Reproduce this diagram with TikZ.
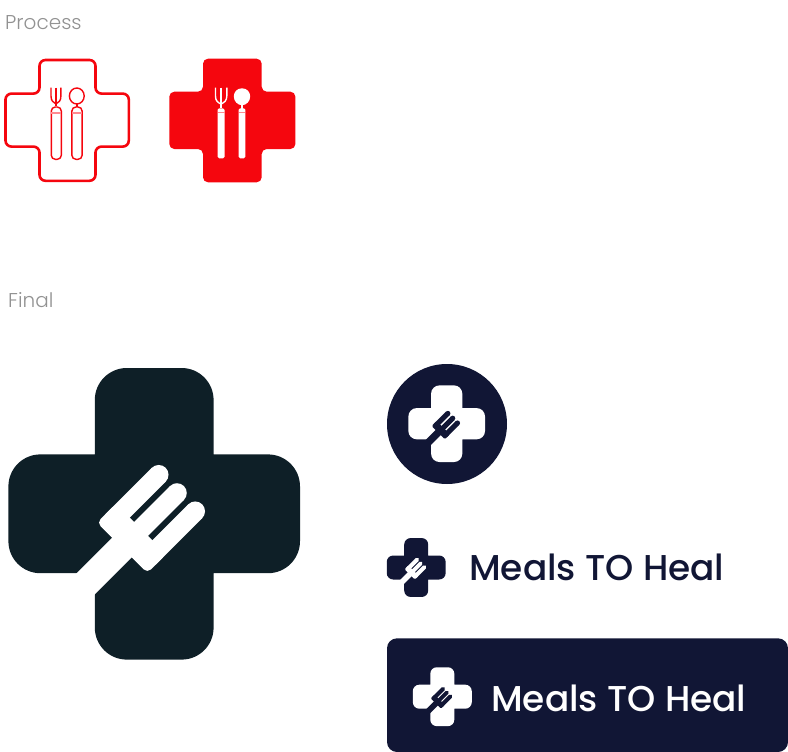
\documentclass[tikz,border=0pt]{standalone}
\usepackage{fontspec}
\setmainfont{Poppins}
\newfontfamily\logofont{Poppins Medium}
\newfontfamily\labelfont{Poppins Light}
\definecolor{navy}{HTML}{111635}
\definecolor{teal}{HTML}{0E1F27}
\definecolor{redc}{HTML}{F5060E}
\definecolor{pinkc}{HTML}{FF8A90}
\definecolor{graytxt}{HTML}{929292}
% emblem: cx cy scale crosscolor forkcolor
\newcommand{\emblem}[5]{%
  \pgfmathsetmacro{\ss}{#3}%
  \pgfmathsetmacro{\aa}{#3*0.7071}%
  \pgfmathsetmacro{\rr}{#3*32}%
  \pgfmathsetmacro{\hr}{#3*5}%
  \begin{scope}[shift={(#1,#2)},x=\ss pt,y=-\ss pt]
    \fill[#4,rounded corners=\rr pt] (-145.8,-59.4) rectangle (145.8,59.4) (-59.4,-145.8) rectangle (59.4,145.8);
    \begin{scope}[x={(\aa pt,\aa pt)},y={(\aa pt,-\aa pt)}]
      \fill[#5] (-115,-12.9) -- (-40,-12.9) -- (-40,14.9) -- (-115,14.9) -- cycle;
      \fill[#5] (-35,-34.2) -- (30.8,-34.2) -- (30.8,-14.6) -- (-35,-14.6) -- cycle;
      \fill[#5] (-35,-8.4) -- (30.8,-8.4) -- (30.8,11.2) -- (-35,11.2) -- cycle;
      \fill[#5] (-35,17.4) -- (30.8,17.4) -- (30.8,37) -- (-35,37) -- cycle;
      \fill[#5] (30.8,-24.4) circle[radius=9.8] (30.8,1.4) circle[radius=9.8] (30.8,27.2) circle[radius=9.8];
      \fill[#5,rounded corners=\hr pt] (-46.7,-34.2) -- (-20,-34.2) -- (-20,37) -- (-46.7,37) -- cycle;
    \end{scope}
  \end{scope}}
\tikzset{
  glabel/.style={text=graytxt,font=\labelfont\fontsize{20pt}{20pt}\selectfont,inner sep=0pt,anchor=base west},
  logotext/.style={font=\logofont\fontsize{35.9pt}{35.9pt}\selectfont,inner sep=0pt,anchor=base west},
  outl/.style={draw=redc,line width=1.4pt},
  pinkline/.style={draw=pinkc,line width=1.2pt}
}
\begin{document}
\begin{tikzpicture}[x=1pt,y=-1pt]
\useasboundingbox (0,0) rectangle (788,752);
\node[glabel] (lp) at (5,30) {Process};
\node[glabel] (lf) at (8,307) {Final};
% outline cross
\draw[redc,line width=2.6pt,rounded corners=6pt]
  (39.5,60) -- (95.5,60) -- (95.5,93.6) -- (128.8,93.6) -- (128.8,146.6) -- (95.5,146.6) -- (95.5,180.8) -- (39.5,180.8) -- (39.5,146.6) -- (5.5,146.6) -- (5.5,93.6) -- (39.5,93.6) -- cycle;
% outline fork
\draw[outl] (51,87.7) -- (51,96) .. controls (51,100.5) and (53,102.5) .. (56,104) .. controls (59,102.5) and (60.9,100.5) .. (60.9,96) -- (60.9,87.7);
\draw[outl] (56,87.7) -- (56,106.5);
\draw[outl,rounded corners=4pt] (51.3,107) rectangle (61.3,159.3);
\draw[pinkline] (51.3,113) -- (61.3,113);
% outline spoon
\draw[outl] (76.8,96) ellipse[x radius=7.4,y radius=8];
\draw[outl] (76.8,104) -- (76.8,107);
\draw[outl,rounded corners=4pt] (71.9,107) rectangle (82.1,159.3);
\draw[pinkline] (71.9,113) -- (82.1,113);
% filled cross
\fill[redc,rounded corners=5pt]
  (203,58.7) -- (261.7,58.7) -- (261.7,91.7) -- (295.4,91.7) -- (295.4,149) -- (261.7,149) -- (261.7,182.3) -- (203,182.3) -- (203,149) -- (169.3,149) -- (169.3,91.7) -- (203,91.7) -- cycle;
% filled fork
\draw[white,line width=1.4pt] (215.5,87.7) -- (215.5,96) .. controls (215.5,100.5) and (217.5,102.5) .. (221,104) .. controls (224.5,102.5) and (226.8,100.5) .. (226.8,96) -- (226.8,87.7);
\draw[white,line width=1.4pt] (221,87.7) -- (221,108.5);
\fill[white,rounded corners=1.5pt] (217.6,108.3) rectangle (224.5,158.3);
\fill[pinkc] (217.6,112.2) rectangle (224.5,113.4);
% filled spoon
\fill[white] (242,88.3) .. controls (247,88.3) and (250.2,92) .. (250.2,96.5) .. controls (250.2,101.5) and (246,105.2) .. (242,105.2) .. controls (238,105.2) and (233.8,101.5) .. (233.8,96.5) .. controls (233.8,92) and (237,88.3) .. (242,88.3) -- cycle;
\draw[white,line width=1.4pt] (242,105) -- (242,109);
\fill[white,rounded corners=1.5pt] (238.6,108.3) rectangle (245.3,158.3);
\fill[pinkc] (238.6,112.2) rectangle (245.3,113.4);
% final
\emblem{154.2}{513.8}{1}{teal}{white}
\fill[navy] (447,424) circle[radius=60];
\emblem{446.7}{423.7}{0.263}{white}{navy}
\emblem{416.2}{567.5}{0.202}{navy}{white}
\node[logotext,text=navy] (t1) at (469,580) {Meals TO Heal};
\fill[navy,rounded corners=10pt] (387,638.3) rectangle (788,752);
\emblem{442.3}{696.7}{0.202}{white}{navy}
\node[logotext,text=white] (t2) at (491,711) {Meals TO Heal};
\end{tikzpicture}
\end{document}
